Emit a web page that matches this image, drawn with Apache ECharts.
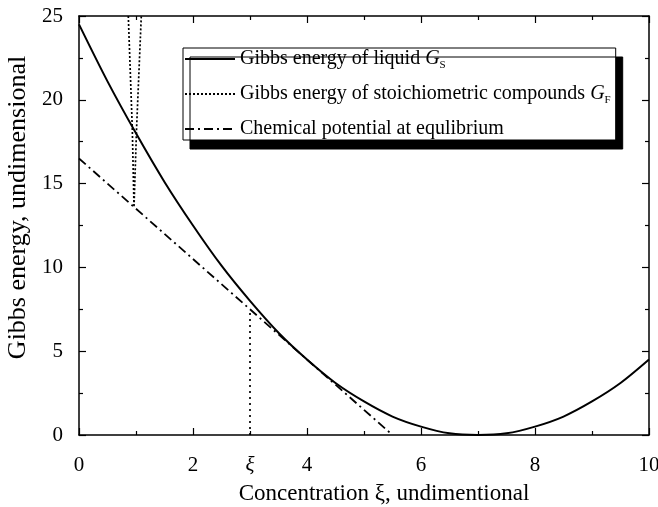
<!DOCTYPE html>
<html><head><meta charset="utf-8">
<script src="https://cdn.jsdelivr.net/npm/echarts@6/dist/echarts.min.js"></script>
<style>html,body{margin:0;padding:0;background:#fff}#c{width:658px;height:507px}</style>
</head><body><div id="c"></div>
<script>
// Data
const liquidX = [0,0.5,1,1.5,2,2.5,3,3.5,4,4.5,5,5.5,6,6.5,7,7.5,8,8.5,9,9.5,10];
const liquidY = [24.5,21.1,18.0,15.1,12.5,10.1,8.0,6.1,4.5,3.1,2.0,1.1,0.5,0.1,0,0.1,0.5,1.1,2.0,3.1,4.5];
const compoundX = [0.865,0.935,0.965,1.01,1.093];
const compoundY = [25,18.3,13.6,18.3,25];
const tangentX = [0,5.5];
const tangentY = [16.5,0];
const xiLineX = [3,3];
const xiLineY = [0,7.5];
const xLabelValues = [0,2,3,4,6,8,10];
const xLabelTexts = ['0','2','ξ','4','6','8','10'];

const pairs = (xs, ys) => xs.map((x, i) => [x, ys[i]]);
const FONT = 'Liberation Serif';
const names = ['liquid','compound','tangent'];

const chart = echarts.init(document.getElementById('c'));
const axisLine = {show:true, onZero:false, lineStyle:{color:'#000', width:1.5}};
const tick = {show:true, inside:true, length:7, lineStyle:{color:'#000', width:1.2}};
const minor = {show:true, splitNumber:2, length:4, lineStyle:{color:'#000', width:1.2}};
chart.setOption({
  animation:false,
  backgroundColor:'#fff',
  grid:{left:79, right:9, top:16, bottom:72, containLabel:false, outerBoundsMode:'none'},
  legend:{
    orient:'vertical', left:183, top:48,
    itemWidth:50, itemHeight:20, itemGap:13,
    padding:[1,5,1,1],
    backgroundColor:'#fff', borderColor:'#000', borderWidth:1,
    shadowColor:'#000', shadowOffsetX:7, shadowOffsetY:9, shadowBlur:0,
    itemStyle:{color:'rgba(0,0,0,0)', borderWidth:0},
    data:names,
    formatter:function(n){
      if(n==='liquid') return '{t|Gibbs energy of liquid }{i|G}{s|S}';
      if(n==='compound') return '{t|Gibbs energy of stoichiometric compounds }{i|G}{s|F}';
      return '{t|Chemical potential at equlibrium}';
    },
    textStyle:{fontFamily:FONT, fontSize:20, color:'#000',
      rich:{
        t:{fontFamily:FONT, fontSize:20, color:'#000'},
        i:{fontFamily:FONT, fontSize:20, fontStyle:'italic', color:'#000'},
        s:{fontFamily:FONT, fontSize:11, color:'#000', padding:[13,0,0,0]}
      }}
  },
  xAxis:[{
    type:'value', min:0, max:10, interval:2, position:'bottom',
    axisLine:axisLine, axisTick:tick, minorTick:minor,
    splitLine:{show:false},
    axisLabel:{show:true, customValues:xLabelValues, margin:20, fontFamily:FONT, fontSize:21, color:'#000',
      formatter:function(v){ const i = xLabelValues.indexOf(v); const s = i>=0?xLabelTexts[i]:''; return s==='ξ' ? '{x|ξ}' : s; },
      rich:{x:{fontFamily:FONT, fontSize:21, fontStyle:'italic', color:'#000'}}},
    name:'Concentration ξ, undimentional', nameLocation:'middle', nameGap:47,
    nameTextStyle:{fontFamily:FONT, fontSize:23, color:'#000', padding:[0,0,0,40]}
  },{
    type:'value', min:0, max:10, interval:2, position:'top',
    axisLine:axisLine, axisTick:tick, minorTick:minor,
    splitLine:{show:false}, axisLabel:{show:false}
  }],
  yAxis:[{
    type:'value', min:0, max:25, interval:5, position:'left',
    axisLine:axisLine, axisTick:tick, minorTick:minor,
    splitLine:{show:false},
    axisLabel:{show:true, margin:16, fontFamily:FONT, fontSize:21, color:'#000'},
    name:'Gibbs energy, undimensional', nameLocation:'middle', nameGap:42,
    nameTextStyle:{fontFamily:FONT, fontSize:26, color:'#000', padding:[0,0,0,36]}
  },{
    type:'value', min:0, max:25, interval:5, position:'right',
    axisLine:axisLine, axisTick:tick, minorTick:minor,
    splitLine:{show:false}, axisLabel:{show:false}
  }],
  series:[
    {name:'liquid', type:'line', data:pairs(liquidX, liquidY), smooth:0.3, symbol:'none',
      lineStyle:{color:'#000', width:2}, itemStyle:{color:'#000'}, clip:true},
    {name:'compound', type:'line', data:pairs(compoundX, compoundY), symbol:'none',
      lineStyle:{color:'#000', width:1.7, type:[2,2]}, itemStyle:{color:'#000'}, clip:true},
    {name:'tangent', type:'line', data:pairs(tangentX, tangentY), symbol:'none',
      lineStyle:{color:'#000', width:1.8, type:[9,4,2,4]}, itemStyle:{color:'#000'}, clip:true},
    {name:'xi', type:'line', data:pairs(xiLineX, xiLineY), symbol:'none',
      lineStyle:{color:'#000', width:1.7, type:[2,4]}, itemStyle:{color:'#000'}, clip:true}
  ]
});
</script></body></html>
